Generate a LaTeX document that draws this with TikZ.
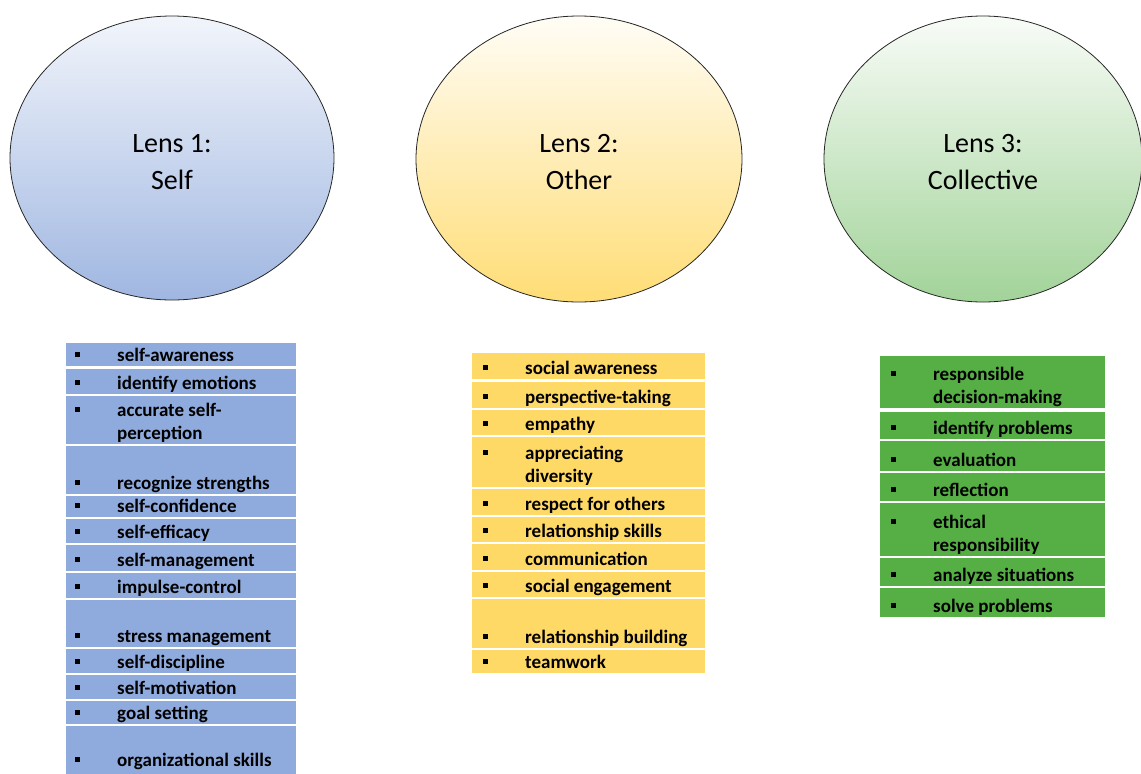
\documentclass[tikz,border=0pt]{standalone}
\usepackage{fontspec}
\setmainfont{Carlito}
\usetikzlibrary{shapes.geometric}

\definecolor{selfblue}{HTML}{8FAADC}
\definecolor{otheryellow}{HTML}{FFD966}
\definecolor{collgreen}{HTML}{55AF45}

% bullet row: square bullet, then the (possibly two-line) text
\newcommand{\lensitem}[1]{\makebox[42pt][l]{\rule[5pt]{4.5pt}{4.5pt}}%
  \begin{tabular}[t]{@{}l@{}}#1\end{tabular}}

\begin{document}
\begin{tikzpicture}[x=1pt, y=-1pt,
    lens/.style={ellipse, draw=black!85, line width=0.8pt, inner sep=0pt},
    lenstext/.style={align=center, inner sep=0pt, font=\fontsize{28}{37}\selectfont},
    item/.style={anchor=south west, inner sep=0pt,
      font=\bfseries\fontsize{19}{23}\selectfont}]
    \fill[white] (0,0) rectangle (1141,774);
    \useasboundingbox (0,0) rectangle (1141,774);
    \clip (0,0) rectangle (1141,774);

    % The three lenses
    \node[lens, minimum width=324pt, minimum height=284pt,
      top color=selfblue!12!white, bottom color=selfblue!85] (lens1) at (172,158) {};
    \node[lens, minimum width=326pt, minimum height=286pt,
      top color=otheryellow!6!white, bottom color=otheryellow!90] (lens2) at (579,159) {};
    \node[lens, minimum width=318pt, minimum height=286pt,
      top color=collgreen!4!white, bottom color=collgreen!55] (lens3) at (983,159) {};
    \node[lenstext] (title1) at ([yshift=-4pt]lens1.center) {Lens 1:\\Self};
    \node[lenstext] (title2) at ([yshift=-3pt]lens2.center) {Lens 2:\\Other};
    \node[lenstext] (title3) at ([yshift=-3pt]lens3.center) {Lens 3:\\Collective};

    % Lens 1 list
    \foreach \t/\b/\txt [count=\i] in {
        343/366/{self-awareness},
        369/394/{identify emotions},
        396/444/{accurate self-\\perception},
        446/494/{recognize strengths},
        496/517/{self-confidence},
        519/543/{self-efficacy},
        545/571/{self-management},
        573/598/{impulse-control},
        600/647/{stress management},
        649/673/{self-discipline},
        675/699/{self-motivation},
        701/724/{goal setting},
        726/790/{organizational skills}} {
        \fill[selfblue] (66,\t) rectangle (296,\b);
        \node[item] (s\i) at (75,{min(\b+3,774)}) {\lensitem{\txt}};
    }

    % Lens 2 list
    \foreach \t/\b/\txt [count=\i] in {
        353/379/{social awareness},
        382/408/{perspective-taking},
        410/435/{empathy},
        437/487/{appreciating\\diversity},
        489/515/{respect for others},
        517/542/{relationship skills},
        544/570/{communication},
        572/597/{social engagement},
        599/648/{relationship building},
        650/673/{teamwork}} {
        \fill[otheryellow] (472,\t) rectangle (705,\b);
        \node[item] (o\i) at (483,\b+3) {\lensitem{\txt}};
    }

    % Lens 3 list
    \foreach \t/\b/\txt [count=\i] in {
        356/408/{responsible\\decision-making},
        412/439/{identify problems},
        441/471/{evaluation},
        473/501/{reflection},
        503/556/{ethical\\responsibility},
        558/586/{analyze situations},
        588/617/{solve problems}} {
        \fill[collgreen] (880,\t) rectangle (1105,\b);
        \node[item] (c\i) at (891,\b+3) {\lensitem{\txt}};
    }
\end{tikzpicture}
\end{document}
